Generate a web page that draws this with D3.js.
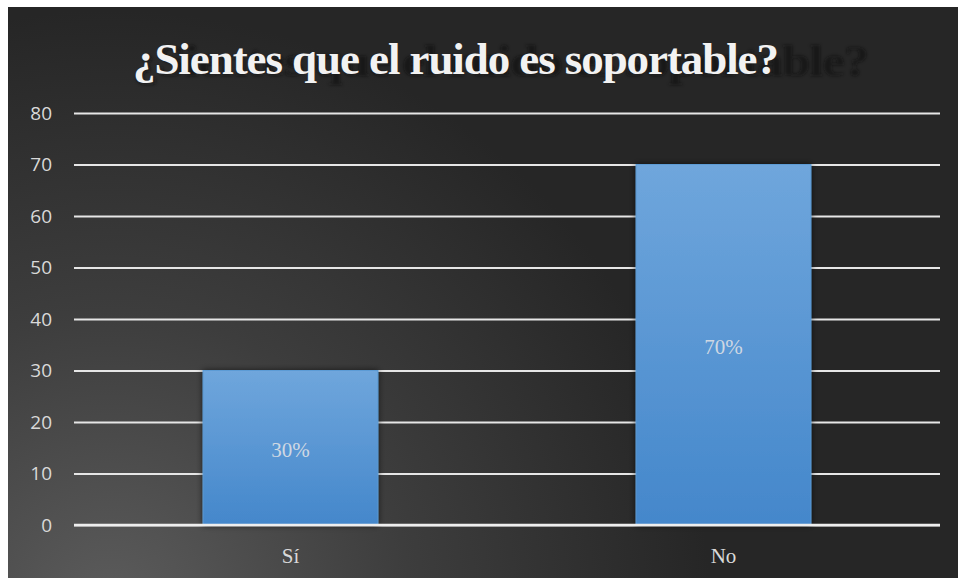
<!DOCTYPE html>
<html>
<head>
<meta charset="utf-8">
<script src="https://cdn.jsdelivr.net/npm/d3@7"></script>
<style>
  body { margin: 0; background: #fff; }
  svg { display: block; }
</style>
</head>
<body>
<div id="chart"></div>
<script>
// data
var categories = ["Sí", "No"];
var values = [30, 70];
var labels = ["30%", "70%"];
var yTicks = [0, 10, 20, 30, 40, 50, 60, 70, 80];
var title = "¿Sientes que el ruido es soportable?";

var W = 958, H = 578;
var svg = d3.select("#chart").append("svg").attr("width", W).attr("height", H);
var defs = svg.append("defs");

// background glow, lighter at bottom left
var bg = defs.append("radialGradient").attr("id", "bg")
  .attr("gradientUnits", "userSpaceOnUse")
  .attr("cx", 110).attr("cy", 610).attr("r", 600);
bg.append("stop").attr("offset", "0%").attr("stop-color", "#5c5c5c");
bg.append("stop").attr("offset", "50%").attr("stop-color", "#3d3d3d");
bg.append("stop").attr("offset", "100%").attr("stop-color", "#262626");

var barGrad = defs.append("linearGradient").attr("id", "barGrad")
  .attr("x1", 0).attr("y1", 0).attr("x2", 0).attr("y2", 1);
barGrad.append("stop").attr("offset", "0%").attr("stop-color", "#6fa6dc");
barGrad.append("stop").attr("offset", "100%").attr("stop-color", "#4487cb");

var blur = defs.append("filter").attr("id", "blur")
  .attr("x", "-10%").attr("y", "-50%").attr("width", "120%").attr("height", "200%");
blur.append("feGaussianBlur").attr("stdDeviation", 1.4);

var barShadow = defs.append("filter").attr("id", "barShadow")
  .attr("x", "-10%").attr("y", "-10%").attr("width", "120%").attr("height", "120%");
barShadow.append("feDropShadow").attr("dx", 0).attr("dy", 0)
  .attr("stdDeviation", 3).attr("flood-color", "#000").attr("flood-opacity", 0.6);

svg.append("rect").attr("x", 8).attr("y", 7).attr("width", W - 8).attr("height", H - 7)
  .attr("fill", "url(#bg)");

var margin = {left: 74, right: 18, top: 113, bottom: 53};

var x = d3.scaleBand().domain(categories)
  .range([margin.left, W - margin.right])
  .paddingInner(0.596).paddingOuter(0.298);

var y = d3.scaleLinear().domain([0, 80])
  .range([H - margin.bottom, margin.top]);

// grid
var yAxis = svg.append("g")
  .attr("transform", "translate(" + margin.left + ",0)")
  .call(d3.axisLeft(y).tickValues(yTicks)
    .tickSize(-(W - margin.left - margin.right)).tickPadding(22));
yAxis.select(".domain").remove();
yAxis.selectAll(".tick line").attr("stroke", "#e6e6e6").attr("stroke-width", 2);
yAxis.selectAll(".tick text")
  .attr("fill", "#d9d9d9")
  .style("font-family", "'Open Sans', sans-serif")
  .style("font-size", "19px");

// bars
svg.append("g").selectAll("rect").data(values).enter().append("rect")
  .attr("x", function(d, i) { return x(categories[i]); })
  .attr("y", function(d) { return y(d); })
  .attr("width", x.bandwidth())
  .attr("height", function(d) { return y(0) - y(d); })
  .attr("fill", "url(#barGrad)")
  .attr("stroke", "#5b9bd5").attr("stroke-width", 1)
  .attr("filter", "url(#barShadow)");

// zero line on top
svg.append("line")
  .attr("x1", margin.left).attr("x2", W - margin.right)
  .attr("y1", y(0)).attr("y2", y(0))
  .attr("stroke", "#eeeeee").attr("stroke-width", 2.5);

// value labels
svg.append("g").selectAll("text").data(values).enter().append("text")
  .attr("x", function(d, i) { return x(categories[i]) + x.bandwidth() / 2; })
  .attr("y", function(d) { return (y(d) + y(0)) / 2 + 9; })
  .attr("text-anchor", "middle")
  .attr("fill", "#cfd8e3")
  .style("font-family", "'Liberation Serif', 'Times New Roman', serif")
  .style("font-size", "21px")
  .text(function(d, i) { return labels[i]; });

// category labels
svg.append("g").selectAll("text").data(categories).enter().append("text")
  .attr("x", function(d) { return x(d) + x.bandwidth() / 2; })
  .attr("y", 563)
  .attr("text-anchor", "middle")
  .attr("fill", "#d9d9d9")
  .style("font-family", "'Liberation Serif', 'Times New Roman', serif")
  .style("font-size", "21px")
  .text(function(d) { return d; });

// title shadow (stretched, blurred)
svg.append("text")
  .attr("x", 133).attr("y", 76)
  .attr("transform", "translate(133,0) scale(1.14,1) translate(-133,0)")
  .attr("fill", "#111").attr("opacity", 0.55)
  .attr("filter", "url(#blur)")
  .style("font-family", "'Liberation Serif', 'Times New Roman', serif")
  .style("font-weight", "bold")
  .style("font-size", "45px")
  .attr("textLength", 646)
  .text(title);

svg.append("text")
  .attr("x", 133).attr("y", 74)
  .attr("fill", "#f2f2f2")
  .style("font-family", "'Liberation Serif', 'Times New Roman', serif")
  .style("font-weight", "bold")
  .style("font-size", "45px")
  .attr("textLength", 646)
  .text(title);
</script>
</body>
</html>
